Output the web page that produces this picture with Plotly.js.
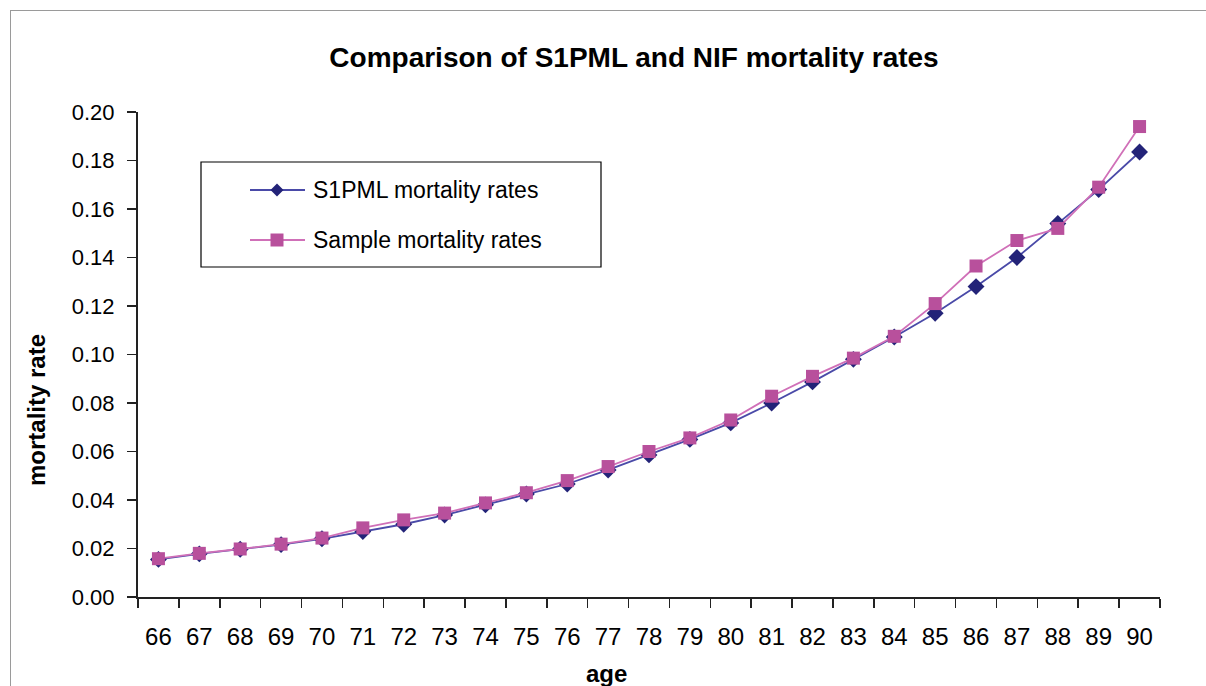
<!DOCTYPE html>
<html>
<head>
<meta charset="utf-8">
<script src="https://cdn.plot.ly/plotly-3.0.1.min.js"></script>
<style>
html,body{margin:0;padding:0;background:#fff;}
#frame{position:absolute;left:10px;top:10px;width:1300px;height:690px;border-left:1px solid #9a9a9a;border-top:1px solid #9a9a9a;box-sizing:border-box;pointer-events:none;}
#chart{position:absolute;left:0;top:0;width:1206px;height:686px;}
</style>
</head>
<body>
<div id="chart"></div>
<div id="frame"></div>
<script>
const ages = ["66","67","68","69","70","71","72","73","74","75","76","77","78","79","80","81","82","83","84","85","86","87","88","89","90"];
const s1pmlRates = [0.0155,0.0178,0.0197,0.0216,0.0240,0.0270,0.0300,0.0338,0.0380,0.0425,0.0466,0.0524,0.0586,0.0650,0.0718,0.0800,0.0887,0.0980,0.1072,0.1170,0.1280,0.1400,0.1540,0.1680,0.1835];
const sampleRates = [0.0158,0.0180,0.0198,0.0218,0.0243,0.0285,0.0318,0.0346,0.0388,0.0430,0.0480,0.0538,0.0600,0.0656,0.0730,0.0828,0.0910,0.0985,0.1075,0.1210,0.1365,0.1470,0.1520,0.1690,0.1940];
const seriesNames = ["S1PML mortality rates","Sample mortality rates"];
const yTicks = [0,0.02,0.04,0.06,0.08,0.10,0.12,0.14,0.16,0.18,0.20];

const font = "Liberation Sans, Arial, sans-serif";
const W = 1206, H = 686, L = 138, R = 46, T = 112, B = 89;
const PW = W - L - R, PH = H - T - B;
const px = v => (v - L) / PW;          // page pixel -> paper x
const py = v => (H - B - v) / PH;      // page pixel -> paper y

const styles = [
  {line: "#4a4aa8", marker: "#232378", symbol: "diamond"},
  {line: "#d070b8", marker: "#b8509c", symbol: "square"}
];
const seriesData = [s1pmlRates, sampleRates];

const traces = seriesData.map((vals, i) => ({
  x: ages, y: vals, name: seriesNames[i], type: "scatter", mode: "lines+markers",
  showlegend: false,
  line: {color: styles[i].line, width: 1.8},
  marker: {symbol: styles[i].symbol, size: 13, color: styles[i].marker}
}));

// custom legend (box, sample lines, markers, labels)
const shapes = [
  {type: "rect", xref: "paper", yref: "paper", x0: px(201), x1: px(601), y0: py(162), y1: py(267),
   line: {color: "#000", width: 1.2}, fillcolor: "#fff", layer: "above"}
];
const annotations = [];
const rowY = [190, 240];
rowY.forEach((ry, i) => {
  shapes.push({type: "line", xref: "paper", yref: "paper", x0: px(250), x1: px(305), y0: py(ry), y1: py(ry),
    line: {color: styles[i].line, width: 1.8}, layer: "above"});
  const cx = 277, s = 6.5;
  let path;
  if (styles[i].symbol === "diamond") {
    path = `M${px(cx)},${py(ry - s)} L${px(cx + s)},${py(ry)} L${px(cx)},${py(ry + s)} L${px(cx - s)},${py(ry)} Z`;
  } else {
    path = `M${px(cx - s)},${py(ry - s)} L${px(cx + s)},${py(ry - s)} L${px(cx + s)},${py(ry + s)} L${px(cx - s)},${py(ry + s)} Z`;
  }
  shapes.push({type: "path", xref: "paper", yref: "paper", path: path,
    fillcolor: styles[i].marker, line: {color: styles[i].marker, width: 0}, layer: "above"});
  annotations.push({text: seriesNames[i], xref: "paper", yref: "paper", x: px(311), y: py(ry),
    xanchor: "left", yanchor: "middle", showarrow: false, font: {family: font, size: 23, color: "#000"}});
});
annotations.push(
  {text: "<b>mortality rate</b>", xref: "paper", yref: "paper", x: px(36), y: py(410),
   xanchor: "center", yanchor: "middle",
   textangle: -90, showarrow: false, font: {family: font, size: 24, color: "#000"}},
  {text: "<b>age</b>", xref: "paper", yref: "paper", x: px(606), y: py(673),
   xanchor: "center", yanchor: "middle",
   showarrow: false, font: {family: font, size: 24, color: "#000"}}
);

const layout = {
  width: W, height: H,
  margin: {l: L, r: R, t: T, b: B},
  paper_bgcolor: "#fff", plot_bgcolor: "#fff",
  showlegend: false,
  title: {text: "<b>Comparison of S1PML and NIF mortality rates</b>", x: 634/W, xanchor: "center", y: 1-57/H, yanchor: "middle",
    font: {family: font, size: 28, color: "#000"}},
  xaxis: {type: "category", tickson: "boundaries", ticks: "outside", ticklen: 9, tickcolor: "#222", tickwidth: 1.5,
    showline: true, linecolor: "#222", linewidth: 2, showgrid: false, zeroline: false, ticklabelstandoff: 17,
    tickfont: {family: font, size: 24, color: "#000"}, range: [-0.5, 24.5]},
  yaxis: {range: [0, 0.2], tickvals: yTicks, tickformat: ".2f", ticks: "outside", ticklen: 9, tickcolor: "#222", tickwidth: 1.5,
    showline: true, linecolor: "#222", linewidth: 2, showgrid: false, zeroline: false, ticklabelstandoff: 8,
    tickfont: {family: font, size: 22, color: "#000"}},
  shapes: shapes,
  annotations: annotations
};
Plotly.newPlot("chart", traces, layout, {displayModeBar: false, staticPlot: true});
</script>
</body>
</html>
